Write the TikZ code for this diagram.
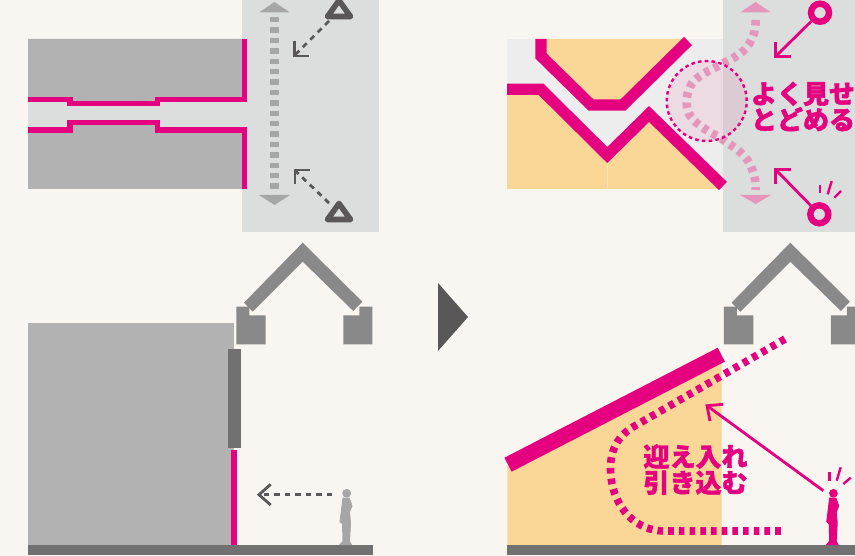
\documentclass[tikz,border=0pt]{standalone}
\usepackage{fontspec}
\newfontfamily\cjk{Noto Sans CJK JP}[BoldFeatures={FakeBold=1.6}]
\definecolor{bgc}{HTML}{F9F6F1}
\definecolor{grayA}{HTML}{B2B2B2}
\definecolor{panelc}{HTML}{DCDDDD}
\definecolor{pinkc}{HTML}{E4007F}
\definecolor{pinkl}{HTML}{E597BB}
\definecolor{orangec}{HTML}{FAD797}
\definecolor{darkc}{HTML}{595757}
\definecolor{midc}{HTML}{727171}
\definecolor{housec}{HTML}{898989}
\definecolor{arrowg}{HTML}{A6A6A6}
\definecolor{lightc}{HTML}{EDEDED}
\tikzset{
  x=1pt,y=-1pt,
  openhead/.style={line width=2.8pt,miter limit=10},
  darkdash/.style={draw=darkc,line width=2.8pt,dash pattern=on 5.5pt off 5pt},
  pinkline/.style={draw=pinkc,line width=2.8pt},
  pinkwall/.style={draw=pinkc,line width=5.6pt,miter limit=10},
  pinkband/.style={draw=pinkc,line width=11.4pt,miter limit=10},
  ring/.style={draw=pinkc,line width=6.4pt},
  warn/.style={draw=darkc,line width=5.6pt,line join=round},
  spark/.style={draw=pinkc,line width=2.4pt},
  label/.style={text=pinkc,font=\cjk\bfseries\fontsize{26}{26}\selectfont,align=center,inner sep=0pt},
}
\newcommand{\housepic}[1]{%
  \fill[housec,shift={(#1,0)}] (244,302.7)--(302.7,242.7)--(362.3,301.7)--(353.3,311)--(302.7,261.7)--(252.7,311.7)--cycle;
  \fill[housec,shift={(#1,0)}] (236.3,306.7)--(249.3,306.7)--(249.3,315.3)--(265.7,315.3)--(265.7,344.3)--(236.3,344.3)--cycle;
  \fill[housec,shift={(#1,0)}] (343.3,315.3)--(359.3,315.3)--(359.3,306.7)--(372.3,306.7)--(372.3,344.3)--(343.3,344.3)--cycle;
}
\newcommand{\personpic}[2]{%
  \fill[#2,shift={(#1,0)}] (346.7,493.3) circle (4.4pt);
  \fill[#2,shift={(#1,0)}] (342.5,497.5)--(349.5,497.5)--(352.5,506)--(350,512)--(351,523)--(350,541)--(352,545)--(339,545)--(342.5,541)--(342,524)--(339.5,522)--(341,510)--cycle;
}
\begin{document}
\begin{tikzpicture}
\useasboundingbox (0,0) rectangle (855,556);
\fill[bgc] (0,0) rectangle (855,556);
% ---------- top left
\fill[panelc] (242,0) rectangle (379,232);
\fill[panelc] (28,99) rectangle (245,131);
\fill[grayA] (28,39)--(244.5,39)--(244.5,99.5)--(157.5,99.5)--(157.5,103.5)--(70,103.5)--(70,99.5)--(28,99.5)--cycle;
\fill[grayA] (28,189)--(244.5,189)--(244.5,130)--(157.5,130)--(157.5,122.5)--(70,122.5)--(70,130)--(28,130)--cycle;
\draw[pinkwall] (28,99.5)--(70,99.5)--(70,103.5)--(157.5,103.5)--(157.5,99.5)--(244.5,99.5)--(244.5,39);
\draw[pinkwall] (28,130)--(70,130)--(70,122.5)--(157.5,122.5)--(157.5,130)--(244.5,130)--(244.5,189);
\draw[arrowg,line width=8.5pt,dash pattern=on 5.4pt off 5pt] (274.5,17)--(274.5,190);
\fill[arrowg] (274.5,2)--(290,12.5)--(259,12.5)--cycle;
\fill[arrowg] (274.5,205)--(290,195)--(259,195)--cycle;
\node[minimum size=0pt,inner sep=0pt] (warnT) at (339,12) {};
\node[minimum size=0pt,inner sep=0pt] (warnB) at (339,215) {};
\draw[warn] (339,0.5)--(350.5,16.5)--(327.5,16.5)--cycle;
\draw[warn] (339,203.5)--(350.5,219.5)--(327.5,219.5)--cycle;
\coordinate (tipT) at (295,55);
\coordinate (tipB) at (295,170.5);
\draw[darkdash] (329,21)--(tipT);
\draw[darkdash] (329,203)--(tipB);
\draw[openhead,draw=darkc] (294.5,41)--(294.5,56)--(309,56);
\draw[openhead,draw=darkc] (295,184.5)--(295,170)--(310,170);
% ---------- top right
\fill[lightc] (507,39) rectangle (724,189);
\fill[panelc] (723,0) rectangle (855,232);
\fill[orangec] (546,39)--(685,39)--(623,100)--(591,100)--(546,55)--cycle;
\fill[orangec] (507,89)--(541,89)--(607.3,155)--(649,114)--(720,189)--(507,189)--cycle;
\draw[orangec!70!white,line width=.6pt] (607.3,160)--(607.3,189);
\fill[pinkc,opacity=.08] (706.7,101) circle (40pt);
\draw[pinkl,line width=8.5pt,dash pattern=on 5.5pt off 5pt]
  plot[smooth,tension=.7] coordinates {(755.7,20) (753,36) (742,52) (718,66) (700,76) (690,87) (686.7,103) (691,117) (705,129) (725,141) (745,157) (754,175) (755.7,190)};
\fill[pinkl] (755.7,2)--(771,12.5)--(740,12.5)--cycle;
\fill[pinkl] (755.7,204)--(771,195)--(740,195)--cycle;
\draw[draw=pinkc,line width=2.4pt,dash pattern=on 3.6pt off 3.2pt] (706.7,101) circle (40pt);
\draw[pinkband] (541,39)--(541,56)--(591,105)--(623,105)--(688,41);
\draw[pinkband] (507,89.3)--(541,89.3)--(607.3,155)--(649,114)--(723,186);
\node[ring,circle,minimum size=18pt,inner sep=0pt] (ringT) at (820,12.7) {};
\node[ring,circle,minimum size=18pt,inner sep=0pt] (ringB) at (819.3,214.3) {};
\coordinate (ptT) at (776,56);
\coordinate (ptB) at (776,170);
\draw[pinkline] (ringT)--(ptT);
\draw[pinkline] (ringB)--(ptB);
\draw[pinkline,miter limit=10] (775.5,41.7)--(775.5,56.5)--(790.7,56.5);
\draw[pinkline,miter limit=10] (775.7,184)--(775.7,169.5)--(791,169.5);
\draw[spark] (820,185)--(820,193.3);
\draw[spark] (831.7,181)--(827.7,194.3);
\draw[spark] (841,191)--(834.3,197.7);
\node[label] (tA) at (803,106.5) {よく見せ\\とどめる};
% ---------- big arrow
\node[inner sep=0pt] (mid) at (450,317) {};
\fill[darkc] (438,283)--(468,317)--(438,351)--cycle;
% ---------- bottom left
\housepic{0}
\fill[grayA] (28,323) rectangle (234,545);
\fill[midc] (227.5,349.5) rectangle (241,447.5);
\draw[draw=pinkc,line width=5.6pt] (234,450)--(234,547);
\fill[midc] (28,545) rectangle (373,555.3);
\personpic{0}{arrowg}
\coordinate (lookL) at (260,494.7);
\draw[darkdash] (332.3,494.7)--(lookL);
\draw[openhead,draw=darkc] (270.7,484.3)--(259,494.7)--(270.7,505);
% ---------- bottom right
\housepic{487.6}
\fill[orangec] (507.3,464.7)--(721.7,354.7)--(721.7,545)--(507.3,545)--cycle;
\draw[draw=pinkc,line width=15.7pt] (508,464.7)--(721.3,354.7);
\draw[draw=pinkc,line width=7.6pt,dash pattern=on 5.6pt off 5.1pt]
  (785,339)--(633,427) .. controls (618,436) and (610,450) .. (610.5,470)
  .. controls (611,500) and (630,531) .. (665,531)--(783,531);
\fill[midc] (507,545) rectangle (855,555.3);
\personpic{486.7}{pinkc}
\coordinate (tipP) at (708.3,406.7);
\coordinate (fromP) at (823.3,490.7);
\draw[pinkline] (fromP)--(tipP);
\draw[pinkline,miter limit=10] (723.3,404.3)--(707,405.7)--(710,421);
\draw[spark] (829.3,472.3)--(829.3,480.7);
\draw[spark] (840.7,467.3)--(836.7,480.7);
\draw[spark] (850.7,477.7)--(843.3,484);
\node[label] (tB) at (695.5,469.5) {迎え入れ\\引き込む};
\end{tikzpicture}
\end{document}
